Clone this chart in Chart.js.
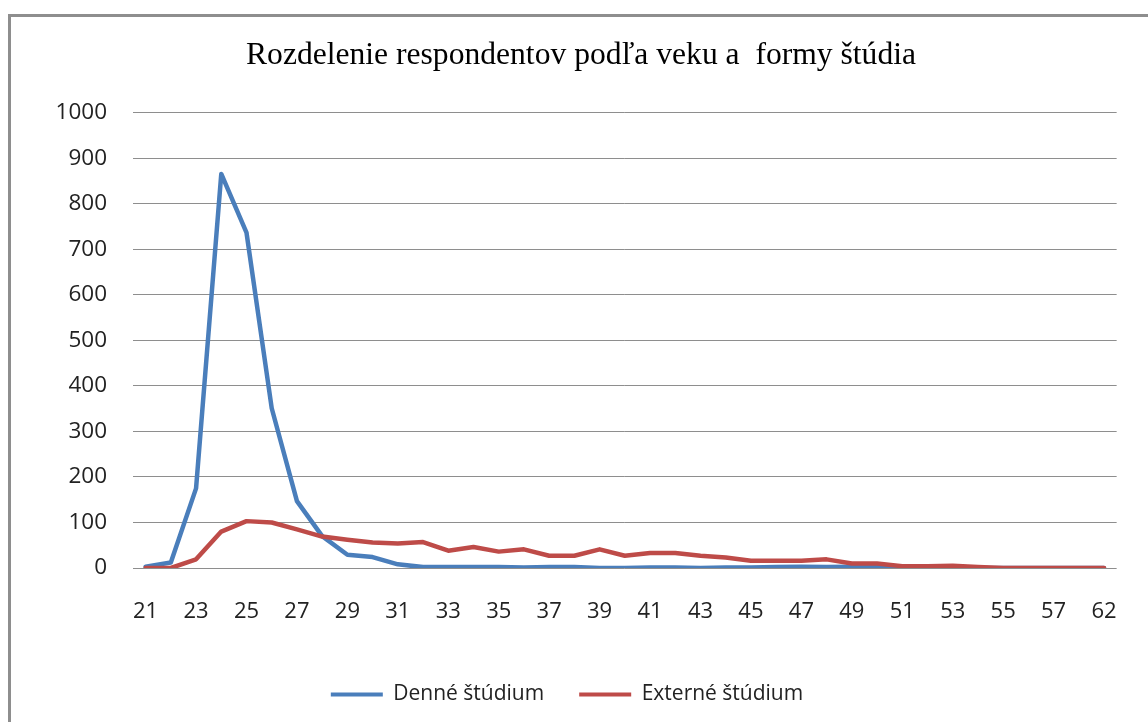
<!DOCTYPE html>
<html>
<head>
<meta charset="utf-8">
<script src="https://cdn.jsdelivr.net/npm/chart.js@4.4.1/dist/chart.umd.min.js"></script>
<style>
  html, body { margin: 0; padding: 0; background: #ffffff; overflow: hidden; }
  #wrap { position: relative; width: 1148px; height: 722px; }
  #frame { position: absolute; left: 8px; top: 14px; width: 2000px; height: 2000px;
           border-top: 3px solid #8e8e8e; border-left: 3px solid #8e8e8e; pointer-events: none; }
</style>
</head>
<body>
<div id="wrap">
  <canvas id="c" width="1148" height="722"></canvas>
  <div id="frame"></div>
</div>
<script>
const chartTitle = "Rozdelenie respondentov podľa veku a  formy štúdia";
const ages = ["21","22","23","24","25","26","27","28","29","30","31","32","33","34","35","36","37","38","39","40","41","42","43","44","45","46","47","48","49","50","51","52","53","54","55","56","57","60","62"];
const denneLabel = "Denné štúdium";
const externeLabel = "Externé štúdium";
const denneValues = [3,12,175,866,737,351,147,70,29,24,8,2,2,2,2,1,2,2,0,0,1,1,0,1,1,2,3,2,3,3,1,0,1,0,0,0,0,0,0];
const externeValues = [0,0,19,80,103,100,85,69,62,56,54,57,38,46,36,41,27,27,41,27,33,33,27,23,16,16,16,19,10,10,4,4,5,2,0,0,0,0,0];
const yTicks = { min: 0, max: 1000, step: 100 };

const blue = "#4a7ebb";
const red = "#be4b48";

// shifts the legend box slightly left after layout (matches the reference placement)
const legendShift = {
  id: "legendShift",
  afterLayout(chart) {
    if (chart.legend) { chart.legend.left -= 14; chart.legend.right -= 14; }
  }
};

new Chart(document.getElementById("c"), {
  type: "line",
  data: {
    labels: ages,
    datasets: [
      { label: denneLabel, data: denneValues, borderColor: blue, backgroundColor: blue,
        borderWidth: 4.5, pointRadius: 0, tension: 0, order: 1,
        borderJoinStyle: "round", borderCapStyle: "round" },
      { label: externeLabel, data: externeValues, borderColor: red, backgroundColor: red,
        borderWidth: 4.5, pointRadius: 0, tension: 0, order: 0,
        borderJoinStyle: "round", borderCapStyle: "round" }
    ]
  },
  plugins: [legendShift],
  options: {
    responsive: false,
    animation: false,
    layout: { padding: { left: 44, right: 30, top: 0, bottom: 7 } },
    plugins: {
      title: {
        display: true, text: chartTitle, color: "#000",
        font: { family: "Liberation Serif", size: 31.6, weight: "normal", lineHeight: 1.2 },
        padding: { top: 37, bottom: 38 }
      },
      legend: {
        position: "bottom",
        labels: {
          color: "#222",
          font: { family: "Open Sans", size: 21 },
          boxWidth: 52, boxHeight: 4, padding: 35,
          generateLabels: (chart) => chart.data.datasets.map((ds, i) => ({
            text: ds.label, fillStyle: ds.borderColor, strokeStyle: ds.borderColor,
            lineWidth: 0, hidden: false, datasetIndex: i, fontColor: "#222"
          }))
        }
      },
      tooltip: { enabled: false }
    },
    scales: {
      x: {
        offset: true,
        grid: { display: false, drawTicks: false },
        border: { display: false },
        ticks: {
          autoSkip: false, maxRotation: 0, minRotation: 0, padding: 31,
          color: "#222", font: { family: "Open Sans", size: 22 },
          callback: function (v, i) { return i % 2 === 0 ? this.getLabelForValue(v) : ""; }
        },
        afterFit: (s) => { s.height = 81; }
      },
      y: {
        min: yTicks.min, max: yTicks.max,
        grid: { color: "#8e8e8e", lineWidth: 1, drawTicks: false },
        border: { display: false },
        ticks: { stepSize: yTicks.step, padding: 26, color: "#222",
                 font: { family: "Open Sans", size: 22.5 },
                 callback: (v) => String(v) },
        afterFit: (s) => { s.width = 89; }
      }
    }
  }
});
</script>
</body>
</html>
